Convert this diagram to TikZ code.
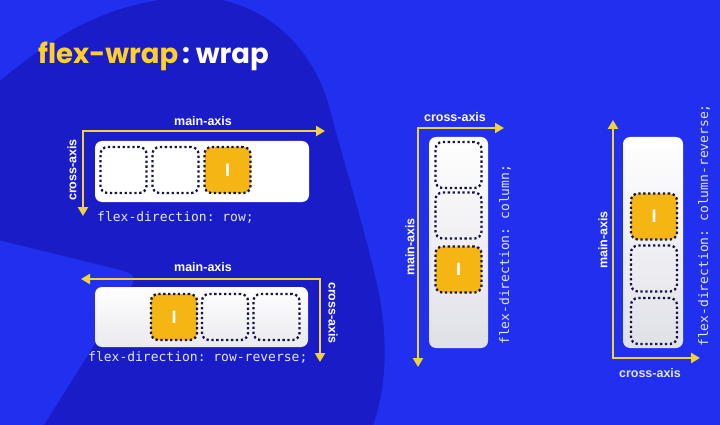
\documentclass[tikz,border=0pt]{standalone}
\usepackage{fontspec}
\usepackage{tikz}
\usetikzlibrary{arrows.meta}
\usepackage{xcolor}
\newfontfamily\titlefont{Poppins}
\newfontfamily\axisfont{Liberation Sans}
\newfontfamily\codefont{DejaVu Sans Mono}
\definecolor{bgblue}{RGB}{32,48,238}
\definecolor{blobblue}{RGB}{26,28,200}
\definecolor{axisyellow}{RGB}{240,210,60}
\definecolor{titleyellow}{RGB}{255,208,40}
\definecolor{itemgold}{RGB}{245,182,20}
\definecolor{dotnavy}{RGB}{20,20,70}
\definecolor{codegray}{RGB}{228,228,240}
\definecolor{boxgray}{RGB}{224,224,232}

\begin{document}
\begin{tikzpicture}[x=1pt, y=-1pt,
  axis/.style={draw=axisyellow, line width=2.4pt,
    {Triangle[length=9pt,width=10pt]}-{Triangle[length=9pt,width=10pt]}},
  axislabel/.style={text=white, inner sep=0pt,
    font=\axisfont\bfseries\fontsize{12.5}{12.5}\selectfont},
  codetext/.style={text=codegray, inner sep=0pt,
    font=\codefont\frenchspacing\fontsize{13}{13}\selectfont},
  holder/.style={rounded corners=7pt, inner sep=0pt},
  itembox/.style={draw=dotnavy, line width=2.3pt, dash pattern=on 2.3pt off 2.6pt,
    rounded corners=7pt, minimum width=46pt, minimum height=46pt, inner sep=0pt},
  pick/.style={itembox, fill=itemgold, text=white,
    font=\axisfont\bfseries\fontsize{18}{18}\selectfont}]
  \useasboundingbox (0,0) rectangle (720,425);
  % Background
  \fill[bgblue] (0,0) rectangle (720,425);
  \fill[blobblue] (-2,82) .. controls (40,50) and (90,4) .. (185,-3)
    .. controls (255,-6) and (312,40) .. (330,110)
    .. controls (346,170) and (362,220) .. (376,280)
    .. controls (390,340) and (386,390) .. (372,428) -- (-2,428) -- cycle;
  \fill[bgblue] (-2,240) -- (120,270) .. controls (135,274) and (137,278) .. (130,288)
    -- (42,428) -- (-2,428) -- cycle;
  % Title
  \node[anchor=base west, inner sep=0pt, text=titleyellow,
    font=\titlefont\bfseries\fontsize{27.5}{27.5}\selectfont] (title) at (38,64)
    {flex-wrap{\color{white}\kern4pt:\ wrap}};

  % Row
  \node[holder, fill=white, minimum width=214pt, minimum height=61pt] (rowbox) at (202,171.5) {};
  \node[itembox] (rowa) at (123.5,170) {};
  \node[itembox] (rowb) at (175.5,170) {};
  \node[pick] (rowc) at (227.5,170) {I};
  \coordinate (rowcorner) at (83,131);
  \coordinate (rowmain) at (325,131);
  \coordinate (rowcross) at (83,216);
  \draw[axis] (rowcross) -- (rowcorner) -- (rowmain);
  \node[axislabel] (rowmainlbl) at (203,121) {main-axis};
  \node[axislabel, rotate=90] (rowcrosslbl) at (72,170) {cross-axis};
  \node[codetext, anchor=west] (rowcode) at (97,217) {flex-direction: row;};

  % Row reverse
  \node[holder, top color=white, bottom color=boxgray!70, minimum width=213pt,
    minimum height=60pt] (revbox) at (201.5,317) {};
  \node[pick] (reva) at (174,317) {I};
  \node[itembox] (revb) at (225,317) {};
  \node[itembox] (revc) at (276.5,317) {};
  \coordinate (revcorner) at (320,279);
  \coordinate (revmain) at (81,279);
  \coordinate (revcross) at (320,362);
  \draw[axis] (revmain) -- (revcorner) -- (revcross);
  \node[axislabel] (revmainlbl) at (203,267) {main-axis};
  \node[axislabel, rotate=-90] (revcrosslbl) at (333,313) {cross-axis};
  \node[codetext, anchor=west] (revcode) at (88,357) {flex-direction: row-reverse;};

  % Column
  \node[holder, top color=white, bottom color=boxgray, minimum width=59pt,
    minimum height=211pt] (colbox) at (458.5,242.5) {};
  \node[itembox] (cola) at (458.5,165) {};
  \node[itembox] (colb) at (458.5,215.5) {};
  \node[pick] (colc) at (458.5,269.5) {I};
  \coordinate (colcorner) at (418,128);
  \coordinate (colcross) at (504,128);
  \coordinate (colmain) at (418,367);
  \draw[axis] (colmain) -- (colcorner) -- (colcross);
  \node[axislabel] (colcrosslbl) at (455,117) {cross-axis};
  \node[axislabel, rotate=90] (colmainlbl) at (410,247) {main-axis};
  \node[codetext, rotate=90, anchor=west] (colcode) at (505,345) {flex-direction: column;};

  % Column reverse
  \node[holder, top color=white, bottom color=boxgray, minimum width=60pt,
    minimum height=211pt] (crevbox) at (653,242.5) {};
  \node[pick] (creva) at (654,216.5) {I};
  \node[itembox] (crevb) at (654,268.5) {};
  \node[itembox] (crevc) at (654,321) {};
  \coordinate (crevcorner) at (613,358);
  \coordinate (crevmain) at (613,120);
  \coordinate (crevcross) at (700,358);
  \draw[axis] (crevmain) -- (crevcorner) -- (crevcross);
  \node[axislabel, rotate=90] (crevmainlbl) at (603,240) {main-axis};
  \node[axislabel, text=codegray] (crevcrosslbl) at (650,373) {cross-axis};
  \node[codetext, rotate=90, anchor=west] (crevcode) at (704,347) {flex-direction: column-reverse;};
\end{tikzpicture}
\end{document}
